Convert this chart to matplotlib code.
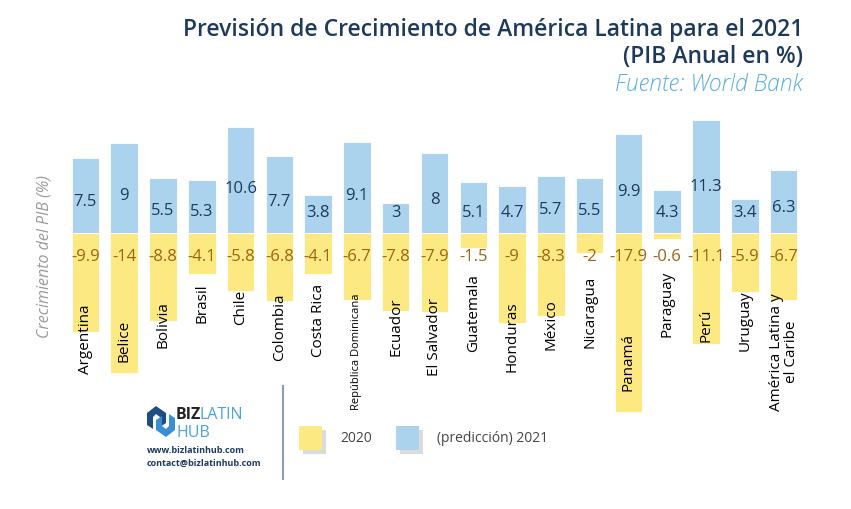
import matplotlib.pyplot as plt
import matplotlib.patheffects as pe
from matplotlib.patches import Rectangle, Polygon
import numpy as np

plt.rcParams['font.family'] = ['Open Sans', 'DejaVu Sans']

# datos (PIB anual en %)
paises = ['Argentina', 'Belice', 'Bolivia', 'Brasil', 'Chile', 'Colombia', 'Costa Rica',
          'República Dominicana', 'Ecuador', 'El Salvador', 'Guatemala', 'Honduras',
          'México', 'Nicaragua', 'Panamá', 'Paraguay', 'Perú', 'Uruguay',
          'América Latina y\nel Caribe']
pib_2020 = [-9.9, -14, -8.8, -4.1, -5.8, -6.8, -4.1, -6.7, -7.8, -7.9, -1.5, -9,
            -8.3, -2, -17.9, -0.6, -11.1, -5.9, -6.7]
pib_2021 = [7.5, 9, 5.5, 5.3, 10.6, 7.7, 3.8, 9.1, 3, 8, 5.1, 4.7, 5.7, 5.5, 9.9,
            4.3, 11.3, 3.4, 6.3]

c_amarillo = '#fde981'
c_azul = '#abd3ed'
c_navy = '#1d3a5c'
c_marron = '#9a6416'

W, H = 851, 510
fig = plt.figure(figsize=(W / 100, H / 100), dpi=100)

def fx(px):
    return px / W

def fy(py):
    return 1 - py / H

# ejes en pixeles: barras de 66 a 803 px, base en y=234
ax = fig.add_axes([fx(66), fy(434), fx(803) - fx(66), (434 - 104) / H])
ax.set_xlim(-0.5, 18.5)
ax.set_ylim(-20, 13)
ax.axis('off')

x = np.arange(len(paises))
ax.bar(x, pib_2021, width=0.71, color=c_azul, edgecolor='white', linewidth=0.6)
ax.bar(x, pib_2020, width=0.71, color=c_amarillo, edgecolor='white', linewidth=0.6)

for i, (v0, v1, nombre) in enumerate(zip(pib_2020, pib_2021, paises)):
    ax.text(i, max(v1 * 0.42, 2.1), f'{v1:g}', ha='center', va='center',
            fontsize=12, color=c_navy)
    ax.text(i, -2.3, f'{v0:g}', ha='center', va='center', fontsize=12, color=c_marron)
    fs = 8 if nombre.startswith('República') else 11
    ax.text(i, -(3.5 + 0.36 * abs(v0)), nombre, rotation=90, ha='center', va='top',
            fontsize=fs, color='black', linespacing=1.0)

# titulos
fig.text(fx(803), fy(30), 'Previsión de Crecimiento de América Latina para el 2021',
         ha='right', va='center', fontsize=16.5, fontweight='semibold', color=c_navy)
fig.text(fx(803), fy(57), '(PIB Anual en %)', ha='right', va='center',
         fontsize=16.5, fontweight='semibold', color=c_navy)
fig.text(fx(803), fy(85), 'Fuente: World Bank', ha='right', va='center',
         fontsize=16.5, color='#5aaee3', style='italic', fontweight='light')

fig.text(fx(45), fy(257), 'Crecimiento del PIB (%)', rotation=90, ha='center',
         va='center', fontsize=11.5, color='#9a9a9a', style='italic')

# separador
fig.add_artist(plt.Line2D([fx(283), fx(283)], [fy(387), fy(480)], color='#8c9cb2', lw=1.5))

# leyenda
for x0, col, lab in [(299, c_amarillo, '2020'), (396, c_azul, '(predicción) 2021')]:
    r = Rectangle((fx(x0), fy(451)), fx(23), 24 / H, transform=fig.transFigure,
                  facecolor=col, edgecolor='none')
    r.set_path_effects([pe.SimplePatchShadow(offset=(3, -3), shadow_rgbFace='#888888', alpha=0.3),
                        pe.Normal()])
    fig.add_artist(r)
    fig.text(fx(x0 + 41), fy(439), lab, ha='left', va='center', fontsize=10, color='#444444')

# logo (eslabones)
fig.add_artist(Polygon([(fx(147), fy(414)), (fx(156), fy(407)), (fx(166), fy(414)),
                        (fx(166), fy(424)), (fx(160), fy(428)), (fx(160), fy(418)),
                        (fx(156), fy(415)), (fx(153), fy(418)), (fx(153), fy(430)),
                        (fx(147), fy(426))],
                       closed=True, transform=fig.transFigure, facecolor='#1f4f80', edgecolor='none'))
fig.add_artist(Polygon([(fx(175), fy(431)), (fx(166), fy(438)), (fx(156), fy(431)),
                        (fx(156), fy(421)), (fx(162), fy(417)), (fx(162), fy(427)),
                        (fx(166), fy(430)), (fx(169), fy(427)), (fx(169), fy(415)),
                        (fx(175), fy(419))],
                       closed=True, transform=fig.transFigure, facecolor='#3a8fd3', edgecolor='none'))
t_biz = fig.text(fx(176), fy(415), 'BIZ', ha='left', va='center', fontsize=11.5,
                 fontweight='bold', color='#222222')
fig.canvas.draw()
bb = t_biz.get_window_extent()
fig.text((bb.x1 - 2) / W, fy(415), 'LATIN', ha='left', va='center', fontsize=11.5, color='#4aa3df')
fig.text(fx(176), fy(433), 'HUB', ha='left', va='center', fontsize=11.5, color='#4aa3df')
fig.text(fx(147), fy(451), 'www.bizlatinhub.com', ha='left', va='center', fontsize=6.5,
         fontweight='bold', color=c_navy)
fig.text(fx(147), fy(463), 'contact@bizlatinhub.com', ha='left', va='center', fontsize=6.5,
         fontweight='bold', color=c_navy)

fig.savefig('out.png', dpi=100)
